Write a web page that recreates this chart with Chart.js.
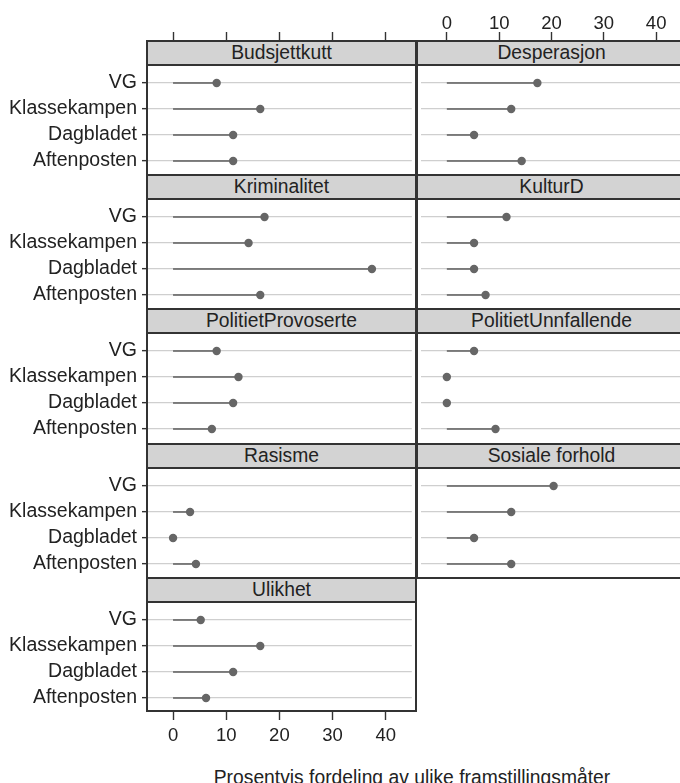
<!DOCTYPE html>
<html>
<head>
<meta charset="utf-8">
<script src="https://cdn.jsdelivr.net/npm/chart.js@4/dist/chart.umd.min.js"></script>
<style>
  html, body { margin:0; padding:0; background:#fff; }
  body { width:680px; height:783px; overflow:hidden; position:relative; font-family:"Liberation Sans", Arial, sans-serif; }
  canvas { position:absolute; }
  .panel { position:absolute; box-sizing:border-box; border:2px solid #333; pointer-events:none; z-index:2; }
  .strip { box-sizing:border-box; height:24px; background:#d3d3d3; border-bottom:2px solid #333; text-align:center; font-size:19.3px; line-height:22px; color:#222; }
  #xtitle { position:absolute; left:147px; width:530px; top:768px; text-align:center; font-size:19.3px; line-height:20px; color:#222; white-space:nowrap; }
</style>
</head>
<body>
<div id="xtitle">Prosentvis fordeling av ulike framstillingsmåter</div>
<script>
// ---- data ----
const categories = ['VG', 'Klassekampen', 'Dagbladet', 'Aftenposten'];
const topics = ['Budsjettkutt', 'Desperasjon', 'Kriminalitet', 'KulturD', 'PolitietProvoserte',
                'PolitietUnnfallende', 'Rasisme', 'Sosiale forhold', 'Ulikhet'];
const budsjettkutt        = [8.2, 16.4, 11.3, 11.3];
const desperasjon         = [17.3, 12.3, 5.2, 14.3];
const kriminalitet        = [17.2, 14.2, 37.4, 16.4];
const kulturD             = [11.4, 5.2, 5.2, 7.4];
const politietProvoserte  = [8.2, 12.3, 11.3, 7.3];
const politietUnnfallende = [5.2, 0, 0, 9.3];
const rasisme             = [null, 3.2, 0, 4.3];
const sosialeForhold      = [20.4, 12.3, 5.2, 12.3];
const ulikhet             = [5.2, 16.4, 11.3, 6.2];
const xTicks = [0, 10, 20, 30, 40];

const panelValues = [budsjettkutt, desperasjon, kriminalitet, kulturD, politietProvoserte,
                     politietUnnfallende, rasisme, sosialeForhold, ulikhet];

// ---- layout ----
const FAMILY = '"Liberation Sans", Arial, sans-serif';
const LABEL_FONT = { family: FAMILY, size: 19.5 };
const TICK_FONT = { family: FAMILY, size: 18.5 };
const TEXT = '#222';
const colX = [147, 417];
const PW = 269;
const rowTops = [41, 175, 309, 444, 578];
const rowBottoms = [175, 309, 444, 578, 711];
const FIRST_ROW_OFFSET = 42;  // px from panel top to first category
const ROW_STEP = 26;          // px between categories
const XMIN = -4.9, XMAX = 44.9;
const PADV = 22;

Chart.defaults.font.family = FAMILY;
Chart.defaults.color = TEXT;

topics.forEach((topic, idx) => {
  const col = idx % 2, row = Math.floor(idx / 2);
  const vals = panelValues[idx];
  const x0 = colX[col];
  const top = rowTops[row], bottom = rowBottoms[row];
  const H = bottom - top;

  const yLabels = col === 0;
  const topAxis = row === 0;
  const topLabels = idx === 1;
  const bottomAxis = idx === 8;

  const left = yLabels ? 0 : x0;
  const yAxisW = yLabels ? x0 : 0;
  const topAxisH = topAxis ? top : 0;
  const bottomAxisH = bottomAxis ? 760 - bottom : 0;
  const padTop = topAxis ? 0 : PADV;
  const padBottom = bottomAxis ? 0 : PADV;
  const ctop = top - topAxisH - padTop;
  const cw = yAxisW + PW;
  const ch = padTop + topAxisH + H + bottomAxisH + padBottom;

  const cv = document.createElement('canvas');
  cv.width = cw; cv.height = ch;
  cv.style.left = left + 'px'; cv.style.top = ctop + 'px';
  cv.style.width = cw + 'px'; cv.style.height = ch + 'px';
  document.body.appendChild(cv);

  // panel frame + strip (text kept as real text)
  const pd = document.createElement('div');
  pd.className = 'panel';
  pd.style.left = (x0 - 1) + 'px';
  pd.style.top = (top - 1) + 'px';
  pd.style.width = (PW + 2) + 'px';
  pd.style.height = (H + 2) + 'px';
  const st = document.createElement('div');
  st.className = 'strip';
  st.textContent = topic;
  pd.appendChild(st);
  document.body.appendChild(pd);

  const yMin = -FIRST_ROW_OFFSET / ROW_STEP;
  const yMax = yMin + H / ROW_STEP;

  const datasets = [];
  vals.forEach((v, i) => {
    if (v === null) return;
    datasets.push({
      type: 'line',
      data: [{ x: 0, y: i }, { x: v, y: i }],
      borderColor: '#5c5c5c', borderWidth: 1.4,
      pointRadius: 0, fill: false, order: 2
    });
  });
  datasets.push({
    type: 'scatter',
    data: vals.map((v, i) => v === null ? null : { x: v, y: i }).filter(p => p),
    backgroundColor: '#666666', borderWidth: 0, pointRadius: 4.2, order: 1
  });

  const xShown = topAxis || bottomAxis;
  new Chart(cv, {
    type: 'scatter',
    data: { datasets },
    options: {
      responsive: false, animation: false, devicePixelRatio: 1,
      layout: { padding: { top: padTop, bottom: padBottom, left: 0, right: 0 } },
      plugins: { legend: { display: false }, tooltip: { enabled: false } },
      scales: {
        x: {
          type: 'linear', min: XMIN, max: XMAX,
          position: topAxis ? 'top' : 'bottom',
          display: xShown,
          grid: { drawOnChartArea: false, drawTicks: true, tickLength: 9, tickColor: '#333', tickWidth: 1.4 },
          border: { display: false },
          ticks: {
            font: TICK_FONT, color: TEXT, padding: topAxis ? -3 : 5, autoSkip: false, maxRotation: 0,
            callback: (v) => (topLabels || bottomAxis) ? String(v) : ''
          },
          afterBuildTicks: (s) => { s.ticks = xTicks.map(v => ({ value: v })); },
          afterFit: (s) => { s.height = topAxis ? topAxisH : bottomAxisH; }
        },
        y: {
          type: 'linear', min: yMin, max: yMax, reverse: true, position: 'left',
          grid: {
            color: '#cfcfcf', lineWidth: 1.3,
            drawTicks: yLabels, tickLength: 5, tickColor: '#333', tickWidth: 1.4
          },
          border: { display: false },
          ticks: {
            display: yLabels, font: LABEL_FONT, color: TEXT, padding: 5, autoSkip: false,
            callback: (v) => categories[v] !== undefined ? categories[v] : ''
          },
          afterBuildTicks: (s) => { s.ticks = categories.map((c, i) => ({ value: i })); },
          afterFit: (s) => { s.width = yAxisW; }
        }
      }
    }
  });
});
</script>
</body>
</html>
